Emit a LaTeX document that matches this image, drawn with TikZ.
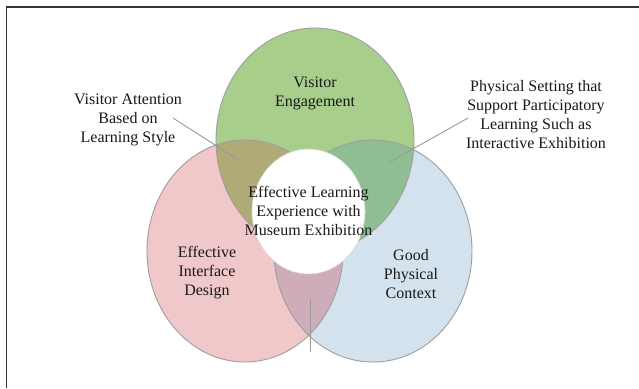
\documentclass[tikz,border=0pt]{standalone}
\usepackage{fontspec}
\setmainfont{Liberation Serif}
\definecolor{cgreen}{RGB}{168,206,140}
\definecolor{cpink}{RGB}{240,200,202}
\definecolor{cblue}{RGB}{212,226,238}
\definecolor{colive}{RGB}{176,170,118}
\definecolor{cteal}{RGB}{142,190,146}
\definecolor{cmauve}{RGB}{206,172,186}
\begin{document}
\begin{tikzpicture}[x=1pt,y=-1pt,
  lbl/.style={align=center,font=\fontsize{16}{19}\selectfont,text=black!90,inner sep=0pt},
  ring/.style={draw=black!38,line width=0.9pt},
  leader/.style={draw=black!40,line width=0.9pt}]
\useasboundingbox (0,0) rectangle (639,388);
\fill[white] (0,0) rectangle (639,388);
% frame
\draw[black!80,line width=1.3pt] (6.5,388) -- (6.5,7) -- (639,7);
% circle centres
\coordinate (G) at (315,140);
\coordinate (P) at (245,251);
\coordinate (B) at (373,251);
\coordinate (W) at (308.5,211.5);
\def\gpath{(G) ellipse [x radius=99, y radius=112]}
\def\ppath{(P) ellipse [x radius=98, y radius=111]}
\def\bpath{(B) ellipse [x radius=99, y radius=111]}
% fills
\fill[cgreen] \gpath;
\fill[cpink] \ppath;
\fill[cblue] \bpath;
\begin{scope}\clip \gpath; \fill[colive] \ppath; \end{scope}
\begin{scope}\clip \gpath; \fill[cteal] \bpath; \end{scope}
\begin{scope}\clip \ppath; \fill[cmauve] \bpath; \end{scope}
% outlines
\draw[ring] \gpath;
\draw[ring] \ppath;
\draw[ring] \bpath;
\fill[white,draw=black!15,line width=0.6pt] (W) ellipse [x radius=56.5, y radius=62.5];
% labels
\node[lbl] (core) at (308.5,211) {Effective Learning\\Experience with\\Museum Exhibition};
\node[lbl] (engage) at (315,93) {Visitor\\Engagement};
\node[lbl] (attn) at (128,120) {Visitor Attention\\Based on\\Learning Style};
\node[lbl] (setting) at (536,115) {Physical Setting that\\Support Participatory\\Learning Such as\\Interactive Exhibition};
\node[lbl] (iface) at (207,273) {Effective\\Interface\\Design};
\node[lbl] (context) at (411,274) {Good\\Physical\\Context};
% leader lines
\coordinate (attn-a) at (173,118);
\coordinate (attn-b) at (237,159);
\coordinate (set-a) at (468,118);
\coordinate (set-b) at (388,163);
\coordinate (low-a) at (310,300);
\coordinate (low-b) at (310,352);
\draw[leader] (attn-a) -- (attn-b);
\draw[leader] (set-a) -- (set-b);
\draw[leader] (low-a) -- (low-b);
\end{tikzpicture}
\end{document}
